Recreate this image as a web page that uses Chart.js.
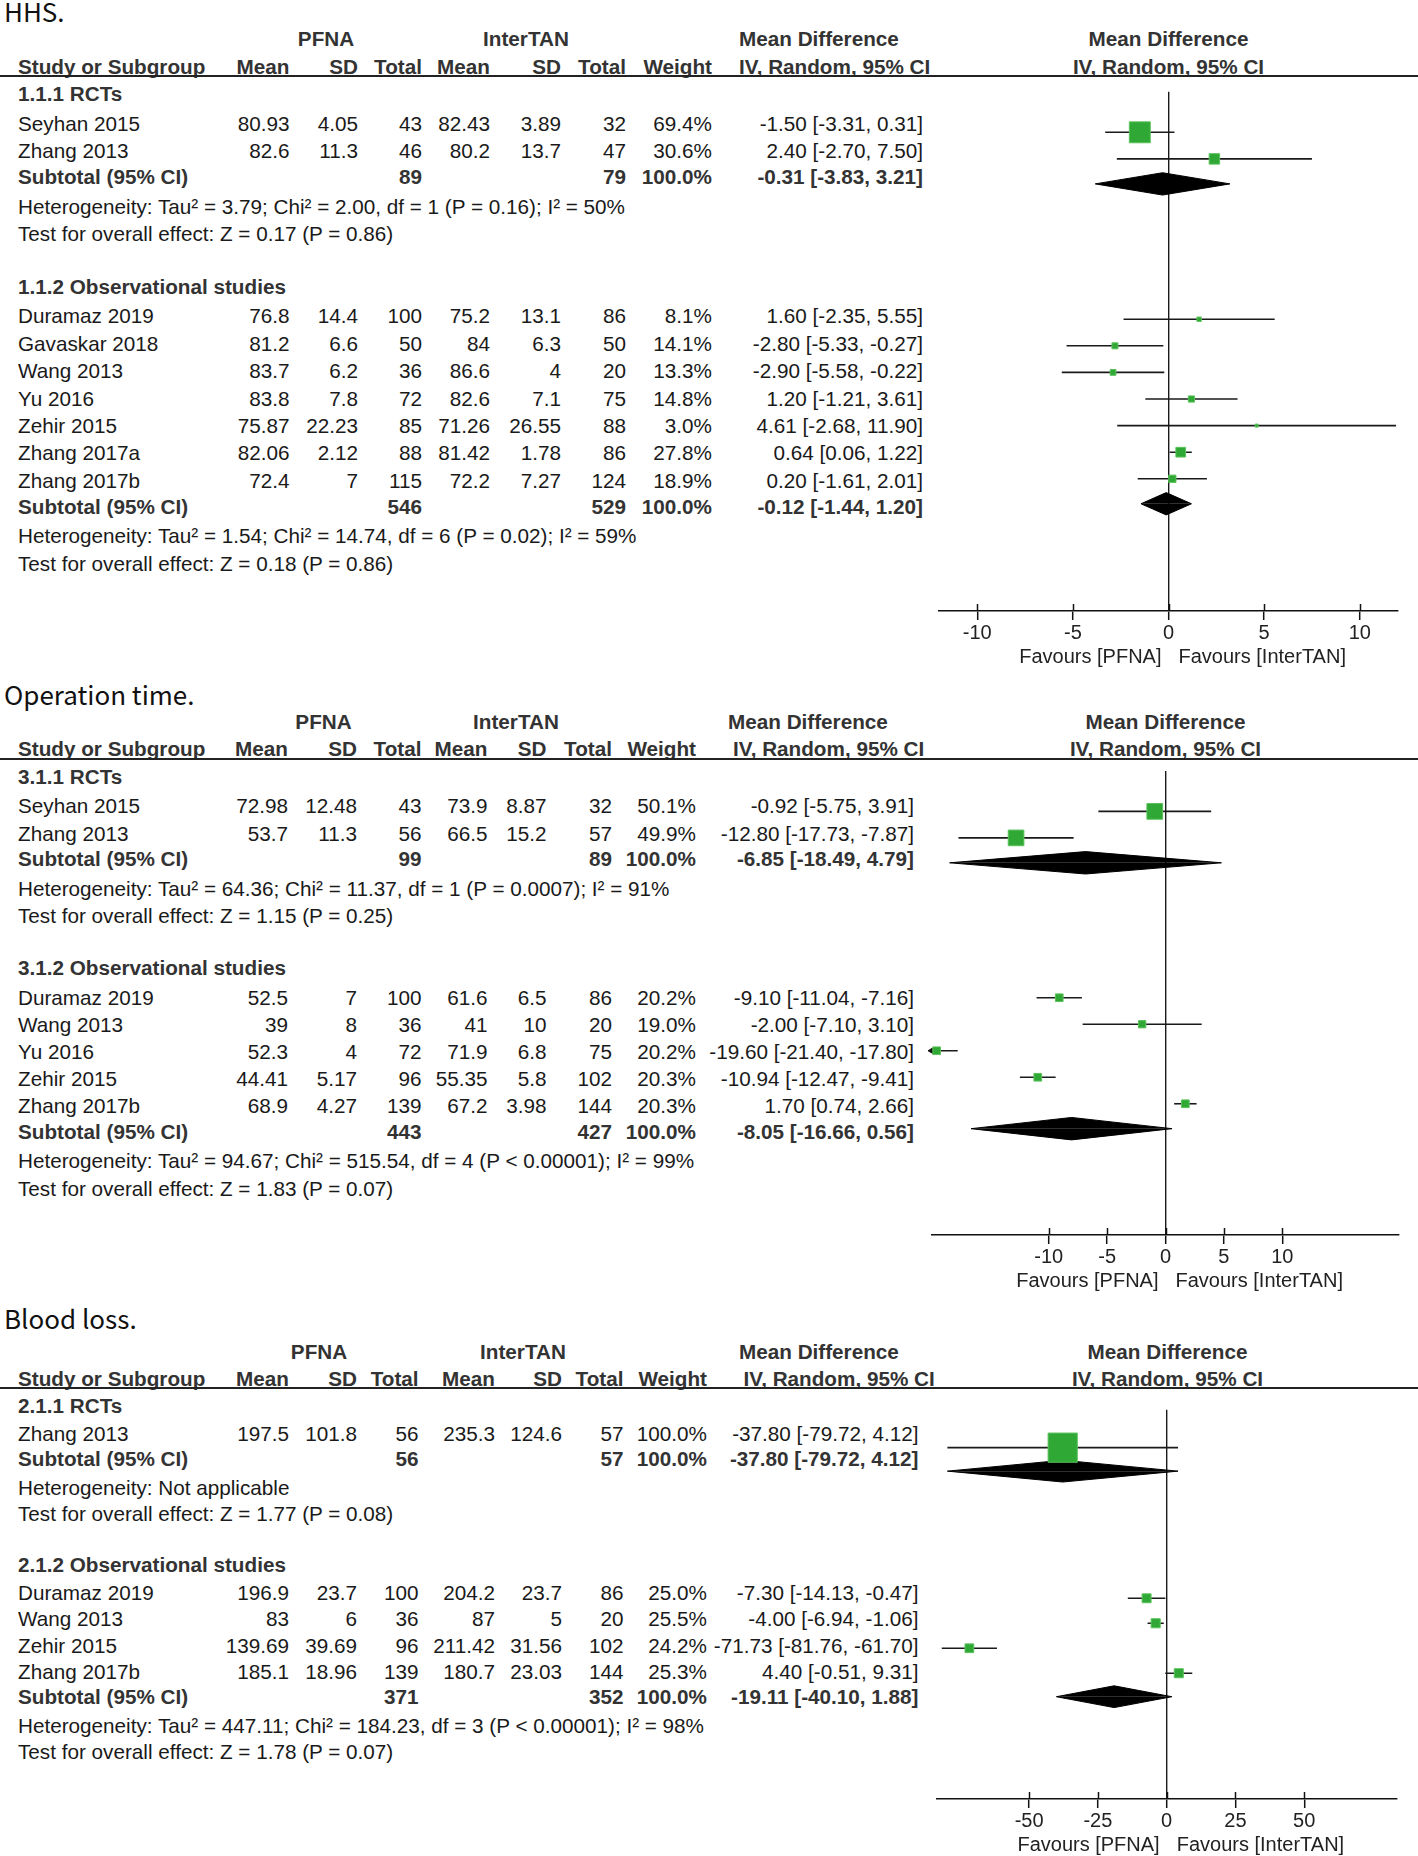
<!DOCTYPE html>
<html lang="en">
<head>
<meta charset="UTF-8">
<title>PFNA vs InterTAN forest plots</title>
<style>
  body { margin: 0; background: #fff; }
  #page { position: relative; width: 1418px; height: 1856px; overflow: hidden;
    font-family: "Liberation Sans", Arial, sans-serif; font-size: 20.7px; color: #1a1a1a; }
  .t { position: absolute; height: 30px; line-height: 30px; white-space: nowrap; }
  .b { font-weight: bold; color: #333; }
  .title { font-family: "Noto Sans CJK SC", "Noto Sans", sans-serif; font-size: 26px; color: #111; height: 40px; line-height: 40px; }
  .rule { position: absolute; left: 0; width: 1418px; height: 2px; background: #222; }
  canvas { position: absolute; }
</style>
</head>
<body>
<div id="page"></div>
<script src="https://cdn.jsdelivr.net/npm/chart.js"></script>
<script>
// ---------- HHS ----------
const hhsSubgroups = ['1.1.1 RCTs', '1.1.2 Observational studies'];
const hhsStudies = ['Seyhan 2015', 'Zhang 2013', 'Duramaz 2019', 'Gavaskar 2018', 'Wang 2013', 'Yu 2016', 'Zehir 2015', 'Zhang 2017a', 'Zhang 2017b'];
const hhsGroup = [0, 0, 1, 1, 1, 1, 1, 1, 1];
const hhsPfnaMean = [80.93, 82.6, 76.8, 81.2, 83.7, 83.8, 75.87, 82.06, 72.4];
const hhsPfnaSd = [4.05, 11.3, 14.4, 6.6, 6.2, 7.8, 22.23, 2.12, 7];
const hhsPfnaN = [43, 46, 100, 50, 36, 72, 85, 88, 115];
const hhsItMean = [82.43, 80.2, 75.2, 84, 86.6, 82.6, 71.26, 81.42, 72.2];
const hhsItSd = [3.89, 13.7, 13.1, 6.3, 4, 7.1, 26.55, 1.78, 7.27];
const hhsItN = [32, 47, 86, 50, 20, 75, 88, 86, 124];
const hhsWeight = [69.4, 30.6, 8.1, 14.1, 13.3, 14.8, 3.0, 27.8, 18.9];
const hhsMd = [-1.50, 2.40, 1.60, -2.80, -2.90, 1.20, 4.61, 0.64, 0.20];
const hhsLo = [-3.31, -2.70, -2.35, -5.33, -5.58, -1.21, -2.68, 0.06, -1.61];
const hhsHi = [0.31, 7.50, 5.55, -0.27, -0.22, 3.61, 11.90, 1.22, 2.01];
const hhsSubPfnaN = [89, 546];
const hhsSubItN = [79, 529];
const hhsSubMd = [-0.31, -0.12];
const hhsSubLo = [-3.83, -1.44];
const hhsSubHi = [3.21, 1.20];
const hhsHetero = ['Heterogeneity: Tau² = 3.79; Chi² = 2.00, df = 1 (P = 0.16); I² = 50%',
  'Heterogeneity: Tau² = 1.54; Chi² = 14.74, df = 6 (P = 0.02); I² = 59%'];
const hhsOverall = ['Test for overall effect: Z = 0.17 (P = 0.86)', 'Test for overall effect: Z = 0.18 (P = 0.86)'];
const hhsTicks = [-10, -5, 0, 5, 10];
const hhsRange = [-12, 12];

// ---------- Operation time ----------
const opSubgroups = ['3.1.1 RCTs', '3.1.2 Observational studies'];
const opStudies = ['Seyhan 2015', 'Zhang 2013', 'Duramaz 2019', 'Wang 2013', 'Yu 2016', 'Zehir 2015', 'Zhang 2017b'];
const opGroup = [0, 0, 1, 1, 1, 1, 1];
const opPfnaMean = [72.98, 53.7, 52.5, 39, 52.3, 44.41, 68.9];
const opPfnaSd = [12.48, 11.3, 7, 8, 4, 5.17, 4.27];
const opPfnaN = [43, 56, 100, 36, 72, 96, 139];
const opItMean = [73.9, 66.5, 61.6, 41, 71.9, 55.35, 67.2];
const opItSd = [8.87, 15.2, 6.5, 10, 6.8, 5.8, 3.98];
const opItN = [32, 57, 86, 20, 75, 102, 144];
const opWeight = [50.1, 49.9, 20.2, 19.0, 20.2, 20.3, 20.3];
const opMd = [-0.92, -12.80, -9.10, -2.00, -19.60, -10.94, 1.70];
const opLo = [-5.75, -17.73, -11.04, -7.10, -21.40, -12.47, 0.74];
const opHi = [3.91, -7.87, -7.16, 3.10, -17.80, -9.41, 2.66];
const opSubPfnaN = [99, 443];
const opSubItN = [89, 427];
const opSubMd = [-6.85, -8.05];
const opSubLo = [-18.49, -16.66];
const opSubHi = [4.79, 0.56];
const opHetero = ['Heterogeneity: Tau² = 64.36; Chi² = 11.37, df = 1 (P = 0.0007); I² = 91%',
  'Heterogeneity: Tau² = 94.67; Chi² = 515.54, df = 4 (P < 0.00001); I² = 99%'];
const opOverall = ['Test for overall effect: Z = 1.15 (P = 0.25)', 'Test for overall effect: Z = 1.83 (P = 0.07)'];
const opTicks = [-10, -5, 0, 5, 10];
const opRange = [-20, 20];

// ---------- Blood loss ----------
const blSubgroups = ['2.1.1 RCTs', '2.1.2 Observational studies'];
const blStudies = ['Zhang 2013', 'Duramaz 2019', 'Wang 2013', 'Zehir 2015', 'Zhang 2017b'];
const blGroup = [0, 1, 1, 1, 1];
const blPfnaMean = [197.5, 196.9, 83, 139.69, 185.1];
const blPfnaSd = [101.8, 23.7, 6, 39.69, 18.96];
const blPfnaN = [56, 100, 36, 96, 139];
const blItMean = [235.3, 204.2, 87, 211.42, 180.7];
const blItSd = [124.6, 23.7, 5, 31.56, 23.03];
const blItN = [57, 86, 20, 102, 144];
const blWeight = [100.0, 25.0, 25.5, 24.2, 25.3];
const blMd = [-37.80, -7.30, -4.00, -71.73, 4.40];
const blLo = [-79.72, -14.13, -6.94, -81.76, -0.51];
const blHi = [4.12, -0.47, -1.06, -61.70, 9.31];
const blSubPfnaN = [56, 371];
const blSubItN = [57, 352];
const blSubMd = [-37.80, -19.11];
const blSubLo = [-79.72, -40.10];
const blSubHi = [4.12, 1.88];
const blHetero = ['Heterogeneity: Not applicable',
  'Heterogeneity: Tau² = 447.11; Chi² = 184.23, df = 3 (P < 0.00001); I² = 98%'];
const blOverall = ['Test for overall effect: Z = 1.77 (P = 0.08)', 'Test for overall effect: Z = 1.78 (P = 0.07)'];
const blTicks = [-50, -25, 0, 25, 50];
const blRange = [-83.5, 83.5];

// page layout (pixels) for each panel
const layouts = [
  { title: 11, groupHdr: 39, colHdr: 66.5, rule: 76, firstRow: 94, step: 27.4, axisY: 611,
    xminPx: 939, xmaxPx: 1398, cols: [289.5, 358, 422, 490, 561, 626, 712, 923], mdHdrLeft: [739, 739], pfnaC: 326, itC: 526 },
  { title: 694, groupHdr: 722, colHdr: 749, rule: 758.5, firstRow: 776.8, step: 27.2, axisY: 1235,
    xminPx: 932, xmaxPx: 1399, cols: [288, 357, 421.5, 487.5, 546.5, 612, 696, 914], mdHdrLeft: [728, 733], pfnaC: 323.5, itC: 516 },
  { title: 1318, groupHdr: 1352, colHdr: 1378.5, rule: 1388, firstRow: 1405.5, step: 26.37, axisY: 1798.5,
    xminPx: 937, xmaxPx: 1398, cols: [289, 357, 418.6, 495, 562, 623.5, 707, 918.5], mdHdrLeft: [739, 743.5], pfnaC: 319, itC: 523 }
];

const panels = [
  { title: 'HHS.', subgroups: hhsSubgroups, studies: hhsStudies, group: hhsGroup, pfnaMean: hhsPfnaMean, pfnaSd: hhsPfnaSd,
    pfnaN: hhsPfnaN, itMean: hhsItMean, itSd: hhsItSd, itN: hhsItN, weight: hhsWeight, md: hhsMd, lo: hhsLo, hi: hhsHi,
    subPfnaN: hhsSubPfnaN, subItN: hhsSubItN, subMd: hhsSubMd, subLo: hhsSubLo, subHi: hhsSubHi,
    hetero: hhsHetero, overall: hhsOverall, ticks: hhsTicks, range: hhsRange },
  { title: 'Operation time.', subgroups: opSubgroups, studies: opStudies, group: opGroup, pfnaMean: opPfnaMean, pfnaSd: opPfnaSd,
    pfnaN: opPfnaN, itMean: opItMean, itSd: opItSd, itN: opItN, weight: opWeight, md: opMd, lo: opLo, hi: opHi,
    subPfnaN: opSubPfnaN, subItN: opSubItN, subMd: opSubMd, subLo: opSubLo, subHi: opSubHi,
    hetero: opHetero, overall: opOverall, ticks: opTicks, range: opRange },
  { title: 'Blood loss.', subgroups: blSubgroups, studies: blStudies, group: blGroup, pfnaMean: blPfnaMean, pfnaSd: blPfnaSd,
    pfnaN: blPfnaN, itMean: blItMean, itSd: blItSd, itN: blItN, weight: blWeight, md: blMd, lo: blLo, hi: blHi,
    subPfnaN: blSubPfnaN, subItN: blSubItN, subMd: blSubMd, subLo: blSubLo, subHi: blSubHi,
    hetero: blHetero, overall: blOverall, ticks: blTicks, range: blRange }
];

const page = document.getElementById('page');
const NAME_X = 18;
const MARK_SHIFT = -6;   // RevMan draws marks a little above the text centre

function put(x, y, str, align, cls) {
  const el = document.createElement('div');
  el.className = 't' + (cls ? ' ' + cls : '');
  el.textContent = str;
  const h = cls === 'title' ? 40 : 30;
  el.style.top = (y - h / 2) + 'px';
  if (align === 'right') {
    el.style.right = (1418 - x) + 'px';
  } else if (align === 'center') {
    el.style.left = (x - 200) + 'px';
    el.style.width = '400px';
    el.style.textAlign = 'center';
  } else {
    el.style.left = x + 'px';
  }
  page.appendChild(el);
}

const ci = (m, l, h) => m.toFixed(2) + ' [' + l.toFixed(2) + ', ' + h.toFixed(2) + ']';

// row positions in units of one study row, from the first subgroup heading
function rowPositions(d) {
  const pos = { hdr: [], study: [], sub: [], het: [], test: [] };
  let p = 0;
  d.subgroups.forEach((g, gi) => {
    pos.hdr[gi] = p;
    p += 1.085;
    d.studies.forEach((s, i) => {
      if (d.group[i] !== gi) return;
      pos.study[i] = p;
      p += 1;
    });
    p -= 1;
    pos.sub[gi] = p + 0.94;
    pos.het[gi] = pos.sub[gi] + 1.085;
    pos.test[gi] = pos.het[gi] + 1;
    p = pos.test[gi] + 1.92;
  });
  return pos;
}

const forestExtras = {
  id: 'forestExtras',
  afterDraw(chart) {
    const { ctx, chartArea, scales: { x } } = chart;
    ctx.save();
    ctx.strokeStyle = '#111';
    ctx.lineWidth = 1.5;
    x.ticks.forEach(t => {
      const px = Math.round(x.getPixelForValue(t.value)) + 0.5;
      ctx.beginPath();
      ctx.moveTo(px, chartArea.bottom);
      ctx.lineTo(px, chartArea.bottom - 7);
      ctx.stroke();
    });
    const x0 = x.getPixelForValue(0);
    ctx.font = '20px "Liberation Sans", Arial, sans-serif';
    ctx.fillStyle = '#222';
    ctx.textBaseline = 'middle';
    ctx.textAlign = 'right';
    ctx.fillText('Favours [PFNA]', x0 - 7, chartArea.bottom + 46);
    ctx.textAlign = 'left';
    ctx.fillText('Favours [InterTAN]', x0 + 10, chartArea.bottom + 46);
    ctx.restore();
  }
};

function drawPanel(d, L) {
  const pos = rowPositions(d);
  const rowY = p => L.firstRow + p * L.step;
  const c = L.cols;
  const zeroPx = L.xminPx + (0 - d.range[0]) / (d.range[1] - d.range[0]) * (L.xmaxPx - L.xminPx);

  // headings
  put(4, L.title, d.title, 'left', 'title');
  put(L.pfnaC, L.groupHdr, 'PFNA', 'center', 'b');
  put(L.itC, L.groupHdr, 'InterTAN', 'center', 'b');
  put(L.mdHdrLeft[0], L.groupHdr, 'Mean Difference', 'left', 'b');
  put(zeroPx, L.groupHdr, 'Mean Difference', 'center', 'b');
  put(NAME_X, L.colHdr, 'Study or Subgroup', 'left', 'b');
  ['Mean', 'SD', 'Total', 'Mean', 'SD', 'Total', 'Weight'].forEach((h, k) => put(c[k], L.colHdr, h, 'right', 'b'));
  put(L.mdHdrLeft[1], L.colHdr, 'IV, Random, 95% CI', 'left', 'b');
  put(zeroPx, L.colHdr, 'IV, Random, 95% CI', 'center', 'b');
  const rule = document.createElement('div');
  rule.className = 'rule';
  rule.style.top = (L.rule - 1) + 'px';
  page.appendChild(rule);

  // table body
  d.subgroups.forEach((g, gi) => {
    put(NAME_X, rowY(pos.hdr[gi]), g, 'left', 'b');
    const ys = rowY(pos.sub[gi]);
    put(NAME_X, ys, 'Subtotal (95% CI)', 'left', 'b');
    put(c[2], ys, String(d.subPfnaN[gi]), 'right', 'b');
    put(c[5], ys, String(d.subItN[gi]), 'right', 'b');
    put(c[6], ys, '100.0%', 'right', 'b');
    put(c[7], ys, ci(d.subMd[gi], d.subLo[gi], d.subHi[gi]), 'right', 'b');
    put(NAME_X, rowY(pos.het[gi]), d.hetero[gi], 'left');
    put(NAME_X, rowY(pos.test[gi]), d.overall[gi], 'left');
  });
  d.studies.forEach((s, i) => {
    const y = rowY(pos.study[i]);
    put(NAME_X, y, s, 'left');
    [d.pfnaMean[i], d.pfnaSd[i], d.pfnaN[i], d.itMean[i], d.itSd[i], d.itN[i]]
      .forEach((v, k) => put(c[k], y, String(v), 'right'));
    put(c[6], y, d.weight[i].toFixed(1) + '%', 'right');
    put(c[7], y, ci(d.md[i], d.lo[i], d.hi[i]), 'right');
  });

  // forest plot
  const top = Math.round(L.rule);
  const areaH = Math.round(L.axisY - top);
  const cv = document.createElement('canvas');
  cv.width = 518;
  cv.height = areaH + 70;
  cv.style.left = '900px';
  cv.style.top = top + 'px';
  cv.style.width = '518px';
  cv.style.height = (areaH + 70) + 'px';
  page.appendChild(cv);

  const base = L.firstRow + MARK_SHIFT;
  const yMin = (top - base) / L.step;
  const yMax = (top + areaH - base) / L.step;
  const half = 11.5 / L.step;

  const datasets = [];
  datasets.push({
    data: d.md.map((m, i) => ({ x: m, y: pos.study[i] })),
    pointStyle: 'rect',
    pointRadius: d.weight.map(w => (2.2 + 0.27 * w) / 1.414),
    pointBackgroundColor: '#2fa836',
    pointBorderColor: '#5cc25c',
    pointBorderWidth: 1,
    clip: false
  });
  const arrows = [];
  d.studies.forEach((s, i) => {
    if (d.lo[i] < d.range[0]) arrows.push({ x: d.range[0], y: pos.study[i], r: -90 });
    if (d.hi[i] > d.range[1]) arrows.push({ x: d.range[1], y: pos.study[i], r: 90 });
  });
  datasets.push({
    data: arrows.map(a => ({ x: a.x, y: a.y })),
    pointStyle: 'triangle',
    pointRotation: arrows.map(a => a.r),
    pointRadius: 4,
    pointBackgroundColor: '#111',
    pointBorderColor: '#111',
    pointBorderWidth: 1,
    clip: false
  });
  d.studies.forEach((s, i) => {
    datasets.push({
      data: [{ x: d.lo[i], y: pos.study[i] }, { x: d.hi[i], y: pos.study[i] }],
      showLine: true, borderColor: '#1a1a1a', borderWidth: 1.6, pointRadius: 0
    });
  });
  d.subMd.forEach((m, gi) => {
    const y = pos.sub[gi];
    [-half, half].forEach(dy => {
      datasets.push({
        data: [{ x: d.subLo[gi], y: y }, { x: m, y: y + dy }, { x: d.subHi[gi], y: y }],
        showLine: true, fill: { value: y }, backgroundColor: '#000', borderColor: '#000',
        borderWidth: 1, pointRadius: 0, tension: 0
      });
    });
  });

  new Chart(cv, {
    type: 'scatter',
    data: { datasets },
    options: {
      responsive: false,
      maintainAspectRatio: false,
      animation: false,
      events: [],
      layout: { padding: { left: L.xminPx - 900, right: 1418 - L.xmaxPx, top: 0, bottom: 0 } },
      plugins: { legend: { display: false }, tooltip: { enabled: false } },
      scales: {
        x: {
          type: 'linear',
          min: d.range[0],
          max: d.range[1],
          afterBuildTicks: s => { s.ticks = d.ticks.map(v => ({ value: v })); },
          afterFit: s => { s.height = 70; },
          grid: {
            drawOnChartArea: true,
            color: ctx => (ctx.tick && ctx.tick.value === 0) ? '#1a1a1a' : 'rgba(0,0,0,0)',
            lineWidth: 1.4,
            tickLength: 9,
            tickColor: '#111',
            tickWidth: 1.5
          },
          border: { display: true, color: '#111', width: 1.6 },
          ticks: {
            autoSkip: false,
            maxRotation: 0,
            padding: 1,
            color: '#222',
            font: { family: '"Liberation Sans", Arial, sans-serif', size: 20 },
            callback: v => String(v)
          }
        },
        y: { type: 'linear', display: false, reverse: true, min: yMin, max: yMax }
      }
    },
    plugins: [forestExtras]
  });
}

panels.forEach((d, k) => drawPanel(d, layouts[k]));
</script>
</body>
</html>
